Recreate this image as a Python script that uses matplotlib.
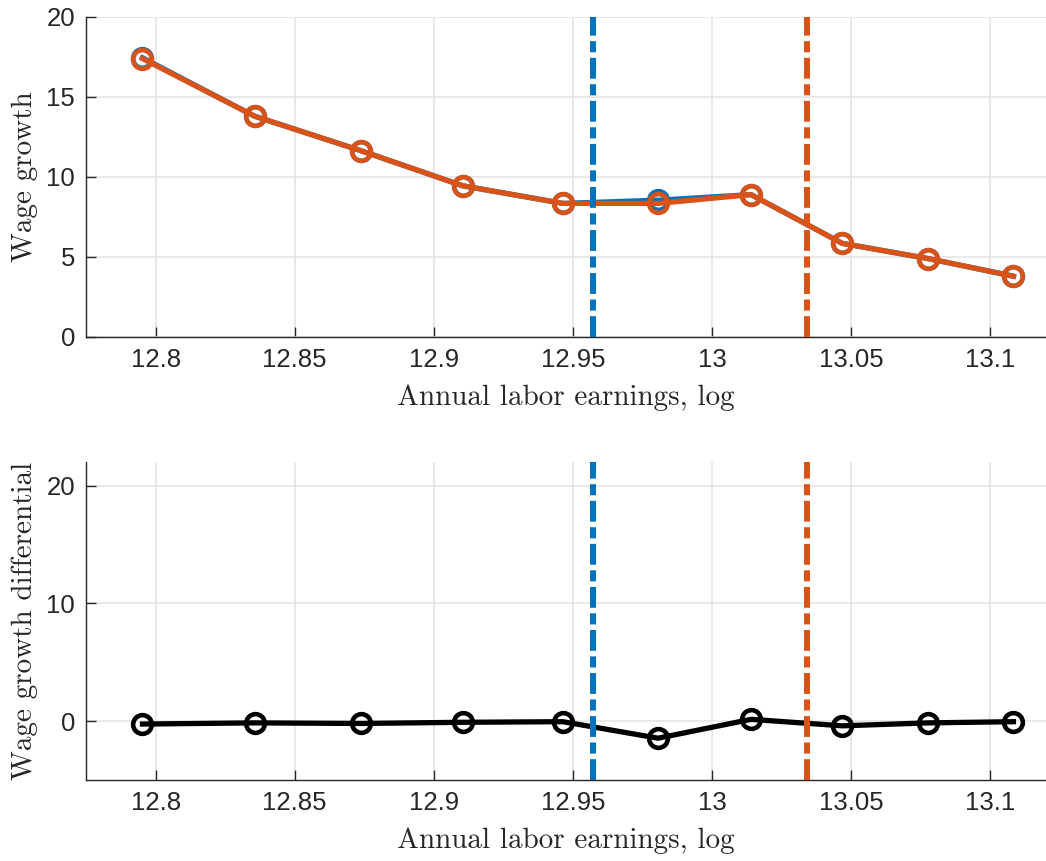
import matplotlib
matplotlib.use("Agg")
import matplotlib.pyplot as plt

# Data
earnings = [12.7953, 12.8356, 12.8737, 12.9104, 12.9464, 12.9806, 13.0140, 13.0468, 13.0777, 13.1083]
growth_blue = [17.45, 13.8, 11.65, 9.45, 8.35, 8.55, 8.9, 5.85, 4.9, 3.8]
growth_orange = [17.4, 13.8, 11.65, 9.45, 8.35, 8.35, 8.9, 5.85, 4.9, 3.8]
differential = [-0.25, -0.15, -0.2, -0.1, -0.05, -1.45, 0.15, -0.4, -0.15, -0.05]
vline_blue = 12.9572
vline_orange = 13.0342
xticks = [12.8, 12.85, 12.9, 12.95, 13.0, 13.05, 13.1]
xticklabels = ["12.8", "12.85", "12.9", "12.95", "13", "13.05", "13.1"]
yticks_top = [0, 5, 10, 15, 20]
yticks_bot = [0, 10, 20]

BLUE = "#0072BD"
ORANGE = "#D95319"
DARK = "#262626"

plt.rcParams["lines.scale_dashes"] = False
plt.rcParams["font.family"] = ["Liberation Sans", "DejaVu Sans"]

fig = plt.figure(figsize=(10.46, 8.61), dpi=100)
ax1 = fig.add_axes([86/1046, 524/861, 960/1046, 320/861])
ax2 = fig.add_axes([86/1046, 81/861, 960/1046, 318/861])

dash = (0, (15, 4, 8, 4))
LW = 3.8
MS = 13.5
MEW = 3.3
VLW = 4.3

def style(ax):
    ax.set_xlim(12.775, 13.12)
    ax.set_xticks(xticks)
    ax.set_xticklabels(xticklabels)
    ax.grid(True, color="#e3e3e3", linewidth=1.1)
    ax.set_axisbelow(True)
    for s in ["top", "right"]:
        ax.spines[s].set_visible(False)
    for s in ["left", "bottom"]:
        ax.spines[s].set_color(DARK)
        ax.spines[s].set_linewidth(1.0)
    ax.tick_params(direction="in", length=7, width=1.0, colors=DARK,
                   labelsize=18.5, pad=8)
    ax.set_xlabel("Annual labor earnings, log", fontfamily="cmr10",
                  fontsize=21, color=DARK, labelpad=9)

# Top panel
ax1.plot(earnings, growth_blue, color=BLUE, linewidth=LW, marker="o",
         markersize=MS, markeredgewidth=MEW, fillstyle="none", zorder=3)
ax1.plot(earnings, growth_orange, color=ORANGE, linewidth=LW, marker="o",
         markersize=MS, markeredgewidth=MEW, fillstyle="none", zorder=4)
ax1.axvline(vline_blue, color=BLUE, linewidth=VLW, linestyle=dash, zorder=5)
ax1.axvline(vline_orange, color=ORANGE, linewidth=VLW, linestyle=dash, zorder=5)
ax1.set_ylim(0, 20)
ax1.set_yticks(yticks_top)
style(ax1)
ax1.set_ylabel("Wage growth", fontfamily="cmr10", fontsize=21, color=DARK, labelpad=6)

# Bottom panel
ax2.plot(earnings, differential, color="black", linewidth=LW, marker="o",
         markersize=MS, markeredgewidth=MEW, fillstyle="none", zorder=4)
ax2.axvline(vline_blue, color=BLUE, linewidth=VLW, linestyle=dash, zorder=5)
ax2.axvline(vline_orange, color=ORANGE, linewidth=VLW, linestyle=dash, zorder=5)
ax2.set_ylim(-5, 22)
ax2.set_yticks(yticks_bot)
style(ax2)
ax2.set_ylabel("Wage growth differential", fontfamily="cmr10", fontsize=21, color=DARK, labelpad=6)

fig.savefig("out.png", dpi=100)
